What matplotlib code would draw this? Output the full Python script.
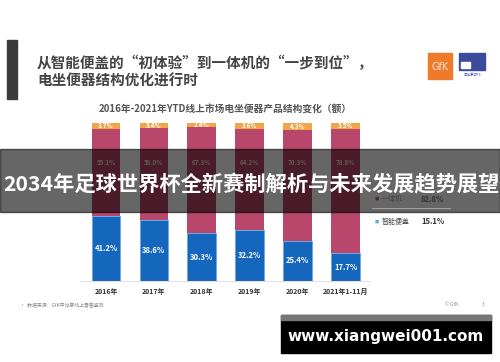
import matplotlib.pyplot as plt
from matplotlib.patches import Rectangle

plt.rcParams['font.family'] = ['Noto Sans CJK SC', 'DejaVu Sans']

years = ["2016年", "2017年", "2018年", "2019年", "2020年", "2021年1-11月"]
smart_cover = [41.2, 38.6, 30.3, 32.2, 25.4, 17.7]
all_in_one = [55.1, 58.0, 67.3, 64.2, 70.3, 78.8]
other = [3.7, 3.4, 2.4, 3.6, 4.3, 3.5]

legend_names = ["一体机", "智能便盖"]
legend_growth = ["82.8%", "15.1%"]

W, H = 500, 362
fig = plt.figure(figsize=(W / 100, H / 100), dpi=100)
fig.patch.set_facecolor('white')


def fx(px):
    return px / W


def fy(py):
    return 1 - py / H


# main bar axes, pixel box 80..370 x 123..281
ax = fig.add_axes([fx(80), fy(281), fx(370) - fx(80), fy(123) - fy(281)])
x = range(len(years))
blue, maroon, orange = '#1467BD', '#B9466B', '#F0A546'
ax.bar(x, smart_cover, 0.6, color=blue, edgecolor='#6FA8DE', linewidth=0.7)
ax.bar(x, all_in_one, 0.6, bottom=smart_cover, color=maroon)
tops = [a + b for a, b in zip(smart_cover, all_in_one)]
ax.bar(x, other, 0.6, bottom=tops, color=orange)

for i in x:
    ax.text(i, smart_cover[i] / 2, f"{smart_cover[i]}%", ha='center', va='center',
            color='white', fontsize=5.5, fontweight='bold')
    ax.text(i, 75, f"{all_in_one[i]}%", ha='center',
            va='center', color='#f3dbe3', fontsize=4.5, fontweight='bold')
    ax.text(i, tops[i] + other[i] / 2, f"{other[i]}%", ha='center', va='center',
            color='white', fontsize=4.5, fontweight='bold')

ax.set_xlim(-0.543, 5.51)
ax.set_ylim(0, 100)
ax.set_xticks(list(x))
ax.set_xticklabels(years, fontsize=5, fontweight='bold', color='#333333')
ax.tick_params(axis='x', length=0, pad=5)
ax.set_yticks([])
for s in ['top', 'left', 'right']:
    ax.spines[s].set_visible(False)
ax.spines['bottom'].set_color('#dddddd')
ax.spines['bottom'].set_linewidth(0.6)
ax.set_facecolor('none')

# headline
fig.add_artist(Rectangle((fx(7), fy(99)), fx(10), fy(40) - fy(99), color='#3a3a3a',
                         transform=fig.transFigure))
fig.text(fx(37), fy(63), "从智能便盖的“初体验”到一体机的“一步到位”，", fontsize=10.5,
         fontweight='bold', color='#444444', va='center')
fig.text(fx(37), fy(81), "电坐便器结构优化进行时", fontsize=10.5,
         fontweight='bold', color='#444444', va='center')
fig.text(fx(225), fy(109), "2016年-2021年YTD线上市场电坐便器产品结构变化（额）", fontsize=7,
         fontweight='bold', color='#555555', ha='center', va='center')

# logos
fig.add_artist(Rectangle((fx(428), fy(79)), fx(24), fy(53) - fy(79), color='#EE7A2A',
                         transform=fig.transFigure))
fig.text(fx(440), fy(67), "GfK", fontsize=7, color='#f6e6dc', ha='center', va='center',
         family='DejaVu Sans')
fig.add_artist(Rectangle((fx(459), fy(70)), fx(26), fy(53) - fy(70), color='#3B4A9A',
                         transform=fig.transFigure))
fig.add_artist(Rectangle((fx(461), fy(68)), fx(9), fy(62) - fy(68), color='white',
                         transform=fig.transFigure))
fig.text(fx(472), fy(75), "中怡康时代", fontsize=2.5, color='#3B4A9A', ha='center', va='center')

# legend block
fig.text(fx(438), fy(162), "零售额增长", fontsize=4.5, color='#666666', ha='center', va='center')
leg_y = [199, 222]
leg_col = ['#4a2a35', '#5FA8DE']
for i in range(2):
    fig.text(fx(377), fy(leg_y[i]), "■", fontsize=3, color=leg_col[i], ha='center', va='center')
    fig.text(fx(382), fy(leg_y[i]), legend_names[i], fontsize=5, color='#444444', va='center')
    fig.text(fx(421), fy(leg_y[i]), legend_growth[i], fontsize=5.5, fontweight='bold',
             color='#333333', va='center')
fig.add_artist(plt.Line2D([fx(372), fx(450)], [fy(208), fy(208)], color='#bbbbbb', lw=0.5))

# footer
fig.text(fx(20), fy(305), "•  数据来源：GfK中怡康线上零售监测", fontsize=3.5, color='#888888', va='center')
fig.text(fx(452), fy(305), "© GfK", fontsize=3.5, color='#888888', va='center', ha='center')
fig.text(fx(483), fy(305), "3", fontsize=3.5, color='#888888', va='center', ha='center')

# overlay banner
fig.add_artist(Rectangle((0, fy(212)), 1, fy(149) - fy(212), color='black', alpha=0.6,
                         transform=fig.transFigure))
fig.text(fx(251), fy(184), "2034年足球世界杯全新赛制解析与未来发展趋势展望", fontsize=15.3,
         fontweight='bold', color='white', ha='center', va='center')

# watermark
fig.add_artist(Rectangle((fx(281), fy(353)), fx(210), fy(315) - fy(353), color='black',
                         transform=fig.transFigure))
fig.add_artist(Rectangle((fx(281), fy(320)), fx(210), fy(315) - fy(320), color='#777777',
                         transform=fig.transFigure))
fig.text(fx(386), fy(337), "www.xiangwei001.com", fontsize=11, fontweight='bold',
         color='white', ha='center', va='center', family='DejaVu Sans')

fig.savefig('out.png', dpi=100)
